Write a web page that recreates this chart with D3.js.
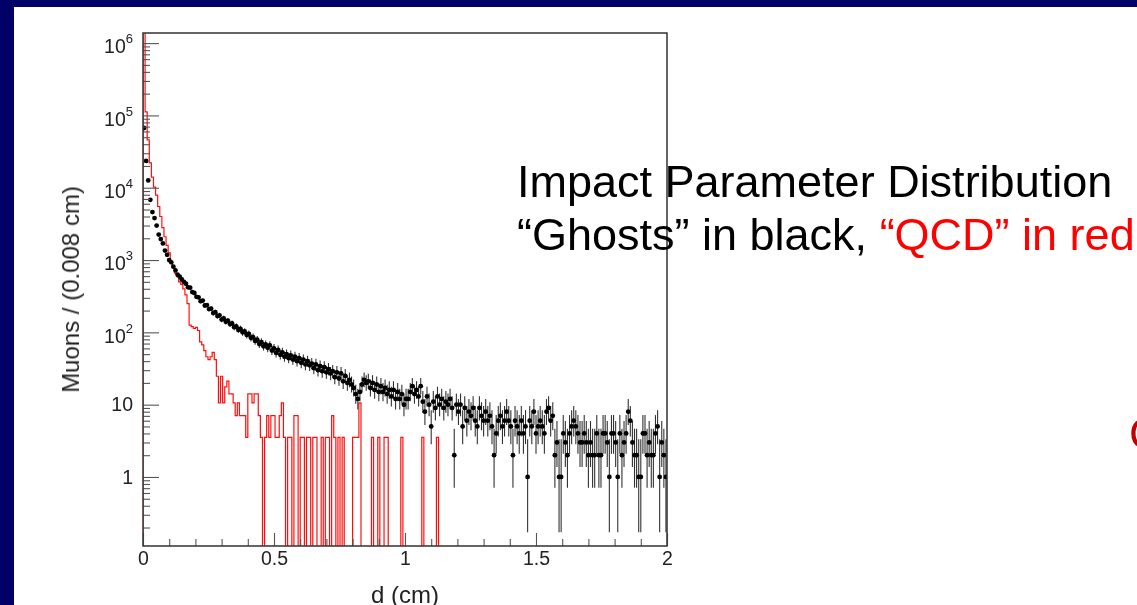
<!DOCTYPE html>
<html>
<head>
<meta charset="utf-8">
<script src="https://d3js.org/d3.v7.min.js"></script>
<style>
  html, body { margin: 0; padding: 0; background: #000066; }
  svg { display: block; }
  text { font-family: "Liberation Sans", Arial, Helvetica, sans-serif; }
</style>
</head>
<body>
<svg id="slide" width="1137" height="605"></svg>
<script>
// Impact parameter d, 250 bins of 0.008 cm from 0 to 2 cm
const binWidth = 0.008;

// "Ghosts": muon counts per bin (drawn as points with Poisson error bars)
const ghosts = [
  67000, 23500, 12600, 6800, 4600, 3800, 3000, 2250, 1950, 1700,
  1350, 1180, 1000, 930, 810, 720, 630, 590, 540, 500,
  470, 420, 415, 360, 350, 310, 305, 270, 275, 235,
  238, 210, 212, 185, 190, 168, 172, 150, 156, 140,
  145, 130, 133, 118, 121, 108, 112, 100, 103, 92,
  95, 84, 86, 76, 79, 69, 73, 64, 68, 61,
  66, 56, 60, 52, 57, 49, 53, 46, 50, 44,
  48, 42, 46, 40, 44, 38, 42, 36, 40, 35,
  37, 32, 36, 30, 34, 29, 33, 28, 31, 27,
  29, 24, 28, 23, 27, 21, 25, 20, 22, 19,
  17, 14, 12, 15, 19, 22, 20, 21, 17, 20,
  16, 19, 15, 18, 15, 17, 14, 16, 13, 16,
  12, 15, 12, 14, 10, 12, 12, 15, 18, 14,
  16, 13, 18, 11, 8, 13, 10, 5, 11, 9,
  13, 10, 12, 9, 11, 10, 12, 9, 2, 10,
  8, 10, 5, 9, 6, 8, 7, 9, 6, 5,
  9, 7, 6, 8, 6, 7, 5, 2, 4, 6,
  7, 5, 6, 8, 6, 5, 2, 6, 5, 4,
  6, 4, 5, 1, 6, 5, 8, 4, 5, 6,
  5, 4, 8, 9, 6, 7, 2, 3, 1, 1,
  4, 3, 2, 4, 5, 6, 5, 4, 3, 3,
  4, 3, 2, 3, 2, 2, 4, 2, 2, 4,
  4, 3, 1, 4, 4, 3, 1, 4, 2, 3,
  4, 8, 6, 3, 2, 2, 1, 1, 4, 4,
  2, 3, 2, 2, 4, 5, 1, 3, 2, 1
];

// "QCD": weighted entries per bin (histogram outline); bins past the list are empty
const qcd = [
  2000000, 112000, 46000, 22000, 14000, 10200, 7900, 5500, 4000, 2800,
  2100, 1600, 1260, 950, 790, 660, 590, 500, 460, 400,
  330, 250, 126, 120, 113, 117, 106, 74, 67, 56,
  46, 42, 46, 53, 42, 24.7, 10.6, 24.7, 10.6, 17.6,
  21.2, 14.1, 14.1, 10.6, 7.06, 10.6, 7.06, 7.06, 7.06, 3.53,
  14.1, 14.1, 10.6, 14.1, 14.1, 7.06, 3.53, 0, 3.53, 7.06,
  3.53, 7.06, 7.06, 3.53, 3.53, 7.06, 10.6, 3.53, 0, 3.53,
  3.53, 0, 7.06, 7.06, 0, 3.53, 3.53, 0, 3.53, 3.53,
  0, 3.53, 3.53, 0, 0, 3.53, 0, 3.53, 3.53, 0,
  7.06, 3.53, 0, 3.53, 0, 3.53, 0, 0, 0, 0,
  3.53, 3.53, 3.53, 10.6, 0, 0, 0, 0, 0, 3.53,
  0, 0, 3.53, 0, 0, 3.53, 3.53, 0, 0, 0,
  0, 0, 0, 3.53, 0, 0, 0, 0, 0, 0,
  0, 0, 0, 3.53, 0, 0, 0, 0, 0, 0,
  3.53, 0
];

const xMajorTicks = [0, 0.5, 1, 1.5, 2];
const yMajorTicks = [1, 10, 100, 1000, 10000, 100000, 1000000];

const W = 1137, H = 605;
const frame = { left: 143, right: 667, top: 33, bottom: 546 };

const svg = d3.select("#slide");
const defs = svg.append("defs");

// printed plots look slightly soft on the slide
defs.append("filter").attr("id", "soft")
  .attr("x", "-2%").attr("y", "-2%").attr("width", "104%").attr("height", "104%")
  .append("feGaussianBlur").attr("stdDeviation", 0.55);

// slide: navy border with white page
svg.append("rect").attr("width", W).attr("height", H).attr("fill", "#000066");
svg.append("rect").attr("x", 14).attr("y", 7).attr("width", W - 14).attr("height", H - 7).attr("fill", "#ffffff");

const x = d3.scaleLinear().domain([0, 2]).range([frame.left, frame.right]);
const y = d3.scaleLog().domain([0.111, 1.38e6]).range([frame.bottom, frame.top]);
const yMin = y.domain()[0];

defs.append("clipPath").attr("id", "plotClip")
  .append("rect")
  .attr("x", frame.left).attr("y", frame.top)
  .attr("width", frame.right - frame.left).attr("height", frame.bottom - frame.top);

const chart = svg.append("g").attr("filter", "url(#soft)");
const plot = chart.append("g").attr("clip-path", "url(#plotClip)");

// QCD histogram outline (empty bins drop to the frame bottom)
const steps = [];
qcd.forEach((v, i) => steps.push({ x: i * binWidth, v }));
steps.push({ x: qcd.length * binWidth, v: 0 });
const stepLine = d3.line()
  .x(d => x(d.x))
  .y(d => d.v > yMin ? y(d.v) : frame.bottom + 2)
  .curve(d3.curveStepAfter);
plot.append("path")
  .datum([{ x: 0, v: 0 }].concat(steps))
  .attr("d", stepLine)
  .attr("fill", "none")
  .attr("stroke", "#ff1010")
  .attr("stroke-width", 1.2);

// Ghost points with asymmetric Poisson (Gehrels) intervals
const pts = ghosts.map((n, i) => {
  const lo = n * Math.pow(1 - 1 / (9 * n) - 1 / (3 * Math.sqrt(n)), 3);
  const hi = n + Math.sqrt(n + 0.75) + 1;
  return { xc: (i + 0.5) * binWidth, n, lo, hi };
}).filter(d => d.n > 0);

const gG = plot.append("g");
gG.selectAll("line.ev")
  .data(pts).join("line")
  .attr("class", "ev")
  .attr("x1", d => x(d.xc)).attr("x2", d => x(d.xc))
  .attr("y1", d => d.lo > yMin ? y(d.lo) : frame.bottom + 2)
  .attr("y2", d => y(d.hi))
  .attr("stroke", "#333").attr("stroke-width", 1.1);
gG.selectAll("line.eh")
  .data(pts).join("line")
  .attr("class", "eh")
  .attr("x1", d => x(d.xc - binWidth / 2)).attr("x2", d => x(d.xc + binWidth / 2))
  .attr("y1", d => y(d.n)).attr("y2", d => y(d.n))
  .attr("stroke", "#000").attr("stroke-width", 1.4);
gG.selectAll("circle")
  .data(pts).join("circle")
  .attr("cx", d => x(d.xc)).attr("cy", d => y(d.n))
  .attr("r", 2.4).attr("fill", "#000");

// axes: ticks point into the frame
const axisColor = "#333";
const xMinor = d3.range(1, 20).map(k => k / 10).filter(v => Math.abs(v * 2 - Math.round(v * 2)) > 1e-9);
const xAxisMinor = chart.append("g").attr("transform", `translate(0,${frame.bottom})`)
  .call(d3.axisBottom(x).tickValues(xMinor).tickSize(-7).tickFormat(""));
const xAxis = chart.append("g").attr("transform", `translate(0,${frame.bottom})`)
  .call(d3.axisBottom(x).tickValues(xMajorTicks).tickSize(-13).tickPadding(5)
    .tickFormat(d3.format("~g")));

const yMinor = [];
for (let e = -1; e <= 6; e++) for (let m = 2; m <= 9; m++) {
  const v = m * Math.pow(10, e);
  if (v > yMin && v < y.domain()[1]) yMinor.push(v);
}
const yAxisMinor = chart.append("g").attr("transform", `translate(${frame.left},0)`)
  .call(d3.axisLeft(y).tickValues(yMinor).tickSize(-7).tickFormat(""));
const yAxis = chart.append("g").attr("transform", `translate(${frame.left},0)`)
  .call(d3.axisLeft(y).tickValues(yMajorTicks).tickSize(-16).tickPadding(10)
    .tickFormat(d => String(Math.round(Math.log10(d)))));

[xAxisMinor, xAxis, yAxisMinor, yAxis].forEach(g => {
  g.select(".domain").remove();
  g.selectAll(".tick line").attr("stroke", "#555").attr("stroke-width", 1.1);
  g.selectAll("text").attr("fill", "#222").style("font-size", "19.5px")
    .style("font-family", '"Liberation Sans", Arial, sans-serif');
});

// y labels as powers of ten
yAxis.selectAll(".tick text").each(function () {
  const t = d3.select(this);
  const e = +t.text();
  t.text(null);
  if (e === 0) { t.text("1"); return; }
  if (e === 1) { t.text("10"); return; }
  t.attr("dy", "0.5em");
  t.append("tspan").text("10");
  t.append("tspan").attr("dy", -10).style("font-size", "13px").text(e);
});

// frame
chart.append("rect")
  .attr("x", frame.left).attr("y", frame.top)
  .attr("width", frame.right - frame.left).attr("height", frame.bottom - frame.top)
  .attr("fill", "none").attr("stroke", axisColor).attr("stroke-width", 1.5);

// axis titles
chart.append("text")
  .attr("transform", `translate(79,${(frame.top + frame.bottom) / 2}) rotate(-90)`)
  .attr("text-anchor", "middle").attr("fill", "#222").style("font-size", "24px")
  .text("Muons / (0.008 cm)");
chart.append("text")
  .attr("x", (frame.left + frame.right) / 2).attr("y", 603)
  .attr("text-anchor", "middle").attr("fill", "#222").style("font-size", "24px")
  .text("d (cm)");

// slide text
svg.append("text").attr("x", 517).attr("y", 197).attr("fill", "#000").style("font-size", "45px")
  .text("Impact Parameter Distribution");
const l2 = svg.append("text").attr("x", 517).attr("y", 250).style("font-size", "45px");
l2.append("tspan").attr("fill", "#000").text("\u201CGhosts\u201D in black, ");
l2.append("tspan").attr("fill", "#ff0000").text("\u201CQCD\u201D in red");
svg.append("text").attr("x", 1129).attr("y", 449).attr("fill", "#c00000").style("font-size", "45px")
  .text("C");
</script>
</body>
</html>
